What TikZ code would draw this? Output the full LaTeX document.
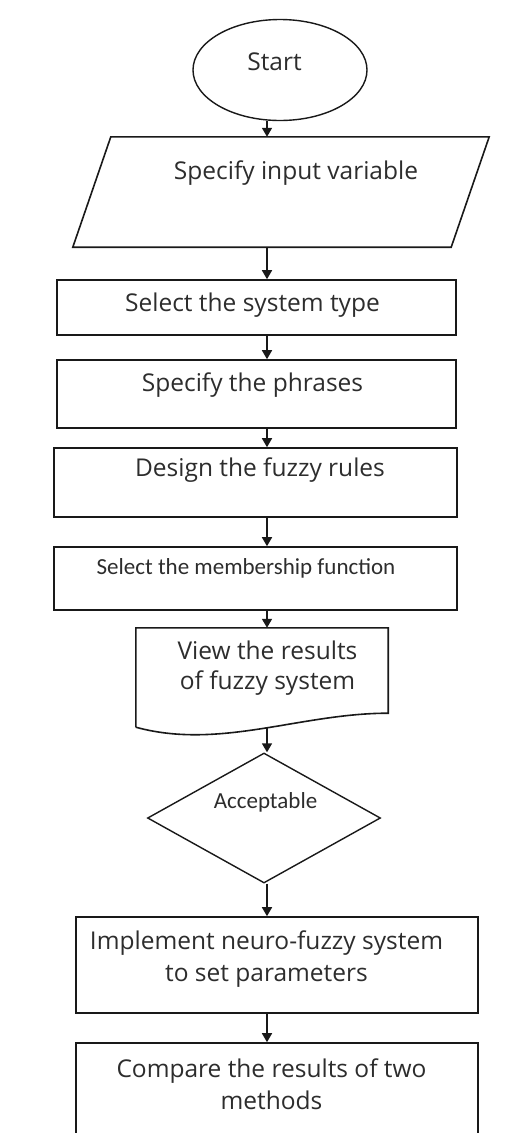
\documentclass[tikz,border=0pt]{standalone}
\usepackage{fontspec}
\setmainfont{Open Sans}
\newfontfamily\calib{Carlito}
\usepackage{xcolor}
\usepackage{tikz}
\usetikzlibrary{arrows.meta,positioning,shapes.geometric}
\definecolor{ink}{RGB}{25,25,25}
\definecolor{txtgray}{RGB}{45,45,45}
\tikzset{
  tx/.style={font=\fontsize{24.5pt}{32pt}\selectfont,text=txtgray,align=center,inner sep=0pt},
  txs/.style={tx,font=\calib\fontsize{23pt}{28pt}\selectfont},
  proc/.style={draw=ink,line width=1.6pt,rectangle,inner sep=0pt},
  term/.style={draw=ink,line width=1.4pt,ellipse,inner sep=0pt},
  decide/.style={draw=ink,line width=1.4pt,diamond,inner sep=0pt},
  arr/.style={draw=ink,line width=1.6pt,-{Triangle[width=10pt,length=9pt]}}
}

\begin{document}
\begin{tikzpicture}[x=1pt,y=-1pt]
    \path[use as bounding box,clip] (0,0) rectangle (509,1133);
    \fill[white] (0,0) rectangle (509,1133);
    \coordinate (spine) at (267,0);

    \node[term,minimum width=174pt,minimum height=101pt,
          label={[tx,shift={(-5.5,-8)}]center:Start}] (start) at (280,70) {};
    \node[inner sep=0pt,minimum width=378pt,minimum height=110pt,
          label={[tx,shift={(15,-19)}]center:Specify input variable}] (input) at (281,192) {};
    \draw[ink,line width=1.6pt] ([xshift=19pt]input.north west) -- ([xshift=19pt]input.north east)
      -- ([xshift=-19pt]input.south east) -- ([xshift=-19pt]input.south west) -- cycle;
    \node[proc,minimum width=399pt,minimum height=55pt,
          label={[tx,shift={(-4,-2.5)}]center:Select the system type}] (systype) at (256.5,307.5) {};
    \node[proc,minimum width=399pt,minimum height=68pt,
          label={[tx,shift={(-4,-9)}]center:Specify the phrases}] (phrases) at (256.5,394) {};
    \node[proc,minimum width=403pt,minimum height=69pt,
          label={[tx,shift={(4.5,-12.5)}]center:Design the fuzzy rules}] (rules) at (255.5,482.5) {};
    \node[proc,minimum width=403pt,minimum height=63pt,
          label={[txs,shift={(-9.5,-10.5)}]center:Select the membership function}] (member) at (255.5,578.5) {};
    \node[inner sep=0pt,minimum width=252pt,minimum height=99pt,
          label={[tx,shift={(5.5,-9.5)},font=\fontsize{24.5pt}{30pt}\selectfont]center:{View the results\\of fuzzy system}}] (view) at (262,677.5) {};
    \draw[ink,line width=1.6pt] (view.south west) -- (view.north west) -- (view.north east)
      -- ([yshift=14pt]view.south east)
      .. controls ([xshift=-88pt,yshift=14pt]view.south east) and ([xshift=84pt,yshift=-23pt]view.south west)
      .. (view.south west);
    \node[decide,minimum width=233pt,minimum height=130pt,
          label={[txs,shift={(1.5,-16)}]center:Acceptable}] (accept) at (264,818) {};
    \node[proc,minimum width=402pt,minimum height=96pt,
          label={[tx,shift={(-10.5,-5.5)}]center:{Implement neuro-fuzzy system\\to set parameters}}] (neuro) at (277,965) {};
    \node[proc,minimum width=402pt,minimum height=110pt,
          label={[tx,shift={(-5.5,-14)}]center:{Compare the results of two\\methods}}] (compare) at (277,1098) {};

    \foreach \a/\b in {start/input,input/systype,systype/phrases,phrases/rules,rules/member,
                       member/view,view/accept,accept/neuro,neuro/compare}
      \draw[arr] (\a.south -| spine) -- (\b.north -| spine);
\end{tikzpicture}
\end{document}
